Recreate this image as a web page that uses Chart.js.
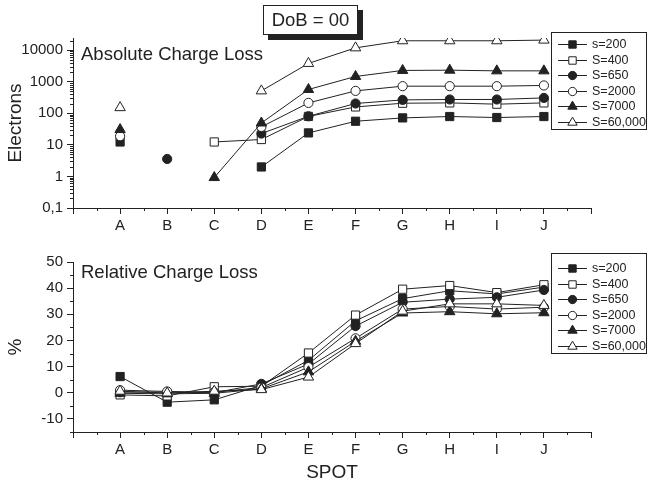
<!DOCTYPE html>
<html>
<head>
<meta charset="utf-8">
<script src="https://cdn.jsdelivr.net/npm/chart.js@4.4.0/dist/chart.umd.min.js"></script>
<style>
  body { margin: 0; background: #fff; }
  #wrap { position: relative; width: 647px; height: 482px; overflow: hidden; }
  #absChart { position: absolute; left: 0; top: 0; }
  #relChart { position: absolute; left: 0; top: 235px; }
  #dob {
    position: absolute; left: 263px; top: 5px; width: 93px; height: 28px;
    border: 1px solid #222; background: #fff; box-shadow: 5px 5px 0 #222;
    font: 18.5px "Liberation Sans", Arial, sans-serif; color: #222;
    line-height: 28px; text-align: center; z-index: 2;
  }
</style>
</head>
<body>
<div id="wrap">
  <canvas id="absChart" width="647" height="235"></canvas>
  <canvas id="relChart" width="647" height="247"></canvas>
  <div id="dob">DoB = 00</div>
</div>
<script>
// Spots along the x axis (A..J sit at 1..10, axis runs 0..11)
const spots = ['A', 'B', 'C', 'D', 'E', 'F', 'G', 'H', 'I', 'J'];
const spotPos = [1, 2, 3, 4, 5, 6, 7, 8, 9, 10];
const seriesLabels = ['s=200', 'S=400', 'S=650', 'S=2000', 'S=7000', 'S=60,000'];

// Absolute charge loss (electrons), null = no point
const abs200   = [12.3, null, null, 1.99, 23.8, 55.7, 71, 78.5, 73, 78.5];
const abs400   = [null, null, 12.3, 14.7, 79, 158, 207, 212, 193, 212];
const abs650   = [null, 3.56, null, 22.7, 80, 203, 264, 272, 272, 305];
const abs2000  = [18.7, null, null, 36.8, 212, 509, 717, 717, 717, 755];
const abs7000  = [30.4, null, 0.92, 49, 564, 1455, 2255, 2300, 2190, 2190];
const abs60000 = [150, null, null, 509, 3760, 11700, 19600, 19600, 19600, 20600];

// Relative charge loss (%)
const rel200   = [6.2, -3.6, -2.7, 2.8, 12.4, 27.5, 36, 39, 37.8, 40.4];
const rel400   = [-0.8, -1.2, 2.3, 2.5, 15.2, 29.7, 39.6, 41, 38.3, 41.3];
const rel650   = [0.2, 0.3, 0, 3.4, 11, 25.5, 34.6, 35.8, 36.5, 39.3];
const rel2000  = [1, 0.5, 0.2, 2, 9.8, 20.8, 32, 33, 32, 32.7];
const rel7000  = [-0.2, -0.4, -0.2, 1.5, 8, 19.7, 30.5, 31, 30.2, 30.6];
const rel60000 = [0.6, -0.1, 0.6, 1.2, 6, 18.8, 31.2, 34, 34, 33.4];

// Tick values / labels
const absTickValues = [0.1, 1, 10, 100, 1000, 10000];
const absTickLabels = ['0,1', '1', '10', '100', '1000', '10000'];
const relTickValues = [-10, 0, 10, 20, 30, 40, 50];
const relTickLabels = ['-10', '0', '10', '20', '30', '40', '50'];

const INK = '#222';
const FONT = '"Liberation Sans", Arial, sans-serif';
Chart.defaults.font.family = FONT;
Chart.defaults.color = INK;

// marker style per series
const markers = [
  { style: 'rect', fill: INK, radius: 5.8 },
  { style: 'rect', fill: '#fff', radius: 5.8 },
  { style: 'circle', fill: INK, radius: 4.6 },
  { style: 'circle', fill: '#fff', radius: 4.6 },
  { style: 'triangle', fill: INK, radius: 6 },
  { style: 'triangle', fill: '#fff', radius: 6 }
];

// minor tick positions
const xMinor = [];
for (let i = 0; i < 11; i++) xMinor.push(i + 0.5);
const logMinor = [];
[0.1, 1, 10, 100, 1000, 10000].forEach(d => {
  for (let k = 2; k <= 9; k++) if (d * k <= 24000) logMinor.push(d * k);
});
const relMinor = [-15, -5, 5, 15, 25, 35, 45];

function makeDatasets(seriesList) {
  return seriesList.map((vals, i) => ({
    label: seriesLabels[i],
    data: spotPos.map((x, j) => ({ x: x, y: vals[j] })),
    borderColor: INK,
    borderWidth: 1,
    pointStyle: markers[i].style,
    pointRadius: markers[i].radius,
    pointBackgroundColor: markers[i].fill,
    pointBorderColor: INK,
    pointBorderWidth: 1,
    spanGaps: false,
    order: -i
  }));
}

// legend box with line + marker samples
const boxLegend = {
  id: 'boxLegend',
  afterDatasetsDraw(chart, args, opts) {
    const ctx = chart.ctx;
    ctx.save();
    ctx.lineWidth = 1;
    ctx.strokeStyle = INK;
    ctx.strokeRect(opts.x + 0.5, opts.y + 0.5, opts.w, opts.h);
    ctx.font = opts.fontSize + 'px ' + FONT;
    ctx.textBaseline = 'middle';
    chart.data.datasets.forEach((ds, i) => {
      const cy = Math.round(opts.firstRow + i * opts.rowGap) + 0.5;
      ctx.strokeStyle = INK;
      ctx.beginPath();
      ctx.moveTo(opts.x + 7, cy);
      ctx.lineTo(opts.x + 36, cy);
      ctx.stroke();
      ctx.fillStyle = ds.pointBackgroundColor;
      Chart.helpers.drawPoint(ctx, {
        pointStyle: ds.pointStyle, radius: ds.pointRadius * 0.9, rotation: 0, borderWidth: 1
      }, opts.x + 21.5, cy);
      ctx.fillStyle = INK;
      ctx.fillText(ds.label, opts.x + 41, cy);
    });
    ctx.restore();
  }
};

// text inside the plot area
const panelLabel = {
  id: 'panelLabel',
  afterDraw(chart, args, opts) {
    const ctx = chart.ctx;
    ctx.save();
    ctx.font = opts.fontSize + 'px ' + FONT;
    ctx.fillStyle = INK;
    ctx.textBaseline = 'middle';
    ctx.fillText(opts.text, opts.x, opts.y);
    ctx.restore();
  }
};

// short outward minor ticks
const minorTicks = {
  id: 'minorTicks',
  afterDraw(chart, args, opts) {
    const ctx = chart.ctx;
    const xs = chart.scales.x, ys = chart.scales.y;
    ctx.save();
    ctx.strokeStyle = INK;
    ctx.lineWidth = 1;
    ctx.beginPath();
    opts.x.forEach(v => {
      const px = Math.round(xs.getPixelForValue(v)) + 0.5;
      ctx.moveTo(px, chart.chartArea.bottom);
      ctx.lineTo(px, chart.chartArea.bottom + opts.len);
    });
    opts.y.forEach(v => {
      const py = Math.round(ys.getPixelForValue(v)) + 0.5;
      ctx.moveTo(chart.chartArea.left, py);
      ctx.lineTo(chart.chartArea.left - opts.len, py);
    });
    ctx.stroke();
    ctx.restore();
  }
};

function xScale(height, showTitle) {
  return {
    type: 'linear',
    min: 0,
    max: 11,
    afterBuildTicks: s => { s.ticks = [0, 1, 2, 3, 4, 5, 6, 7, 8, 9, 10, 11].map(v => ({ value: v })); },
    afterFit: s => { s.height = height; },
    ticks: {
      autoSkip: false,
      maxRotation: 0,
      padding: 3,
      font: { size: 15 },
      color: INK,
      callback: v => (v >= 1 && v <= 10 ? spots[v - 1] : '')
    },
    grid: { drawOnChartArea: false, drawTicks: true, tickLength: 6, tickColor: INK },
    border: { display: true, color: INK, width: 1 },
    title: {
      display: showTitle,
      text: 'SPOT',
      font: { size: 19, lineHeight: 1 },
      color: INK,
      padding: { top: 0, bottom: 0 }
    }
  };
}

function yCommon(titleText, values, labels) {
  return {
    afterBuildTicks: s => { s.ticks = values.map(v => ({ value: v })); },
    afterFit: s => { s.width = 73; },
    ticks: {
      padding: 4,
      font: { size: 15 },
      color: INK,
      callback: v => {
        const k = values.indexOf(v);
        return k >= 0 ? labels[k] : '';
      }
    },
    grid: { drawOnChartArea: false, drawTicks: true, tickLength: 6, tickColor: INK },
    border: { display: true, color: INK, width: 1 },
    title: {
      display: true,
      text: titleText,
      font: { size: 19, lineHeight: 1 },
      color: INK,
      padding: { top: 6, bottom: 0 }
    }
  };
}

const absY = Object.assign(yCommon('Electrons', absTickValues, absTickLabels), {
  type: 'logarithmic', min: 0.1, max: 24000
});
const relY = Object.assign(yCommon('%', relTickValues, relTickLabels), {
  type: 'linear', min: -15, max: 50
});

new Chart(document.getElementById('absChart'), {
  type: 'line',
  data: { datasets: makeDatasets([abs200, abs400, abs650, abs2000, abs7000, abs60000]) },
  options: {
    responsive: false,
    animation: false,
    devicePixelRatio: 1,
    layout: { padding: { top: 38, right: 56, left: 0, bottom: 0 } },
    scales: { x: xScale(27, false), y: absY },
    plugins: {
      legend: { display: false },
      tooltip: { enabled: false },
      boxLegend: { x: 551, y: 32, w: 95, h: 97, firstRow: 44, rowGap: 15.6, fontSize: 12.5 },
      panelLabel: { text: 'Absolute Charge Loss', x: 81, y: 55, fontSize: 18.5 },
      minorTicks: { x: xMinor, y: logMinor, len: 3 }
    }
  },
  plugins: [boxLegend, panelLabel, minorTicks]
});

new Chart(document.getElementById('relChart'), {
  type: 'line',
  data: { datasets: makeDatasets([rel200, rel400, rel650, rel2000, rel7000, rel60000]) },
  options: {
    responsive: false,
    animation: false,
    devicePixelRatio: 1,
    layout: { padding: { top: 27, right: 56, left: 0, bottom: 0 } },
    scales: { x: xScale(50, true), y: relY },
    plugins: {
      legend: { display: false },
      tooltip: { enabled: false },
      boxLegend: { x: 551, y: 18, w: 95, h: 100, firstRow: 33.3, rowGap: 15.5, fontSize: 12.5 },
      panelLabel: { text: 'Relative Charge Loss', x: 81, y: 37.7, fontSize: 18.5 },
      minorTicks: { x: xMinor, y: relMinor, len: 3 }
    }
  },
  plugins: [boxLegend, panelLabel, minorTicks]
});
</script>
</body>
</html>
